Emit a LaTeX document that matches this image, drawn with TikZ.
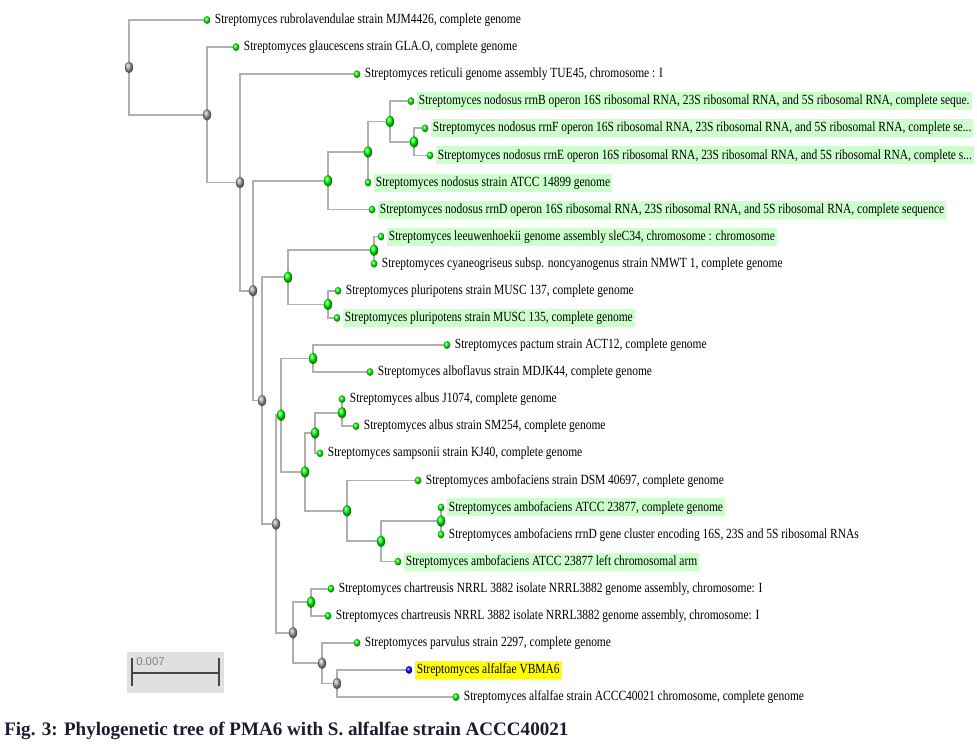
\documentclass[tikz,border=0pt]{standalone}
\usepackage{fontspec}
\setmainfont{Liberation Serif}
\newfontfamily\leaffont[FakeStretch=0.82]{Liberation Serif}
\newfontfamily\barfont{Liberation Sans}
\usetikzlibrary{shapes.geometric,backgrounds}
\definecolor{hlgreen}{RGB}{204,255,204}
\definecolor{hlyellow}{RGB}{255,255,0}
\definecolor{branchgray}{RGB}{176,176,176}
\definecolor{captioncol}{RGB}{28,28,48}
\definecolor{barbox}{RGB}{224,224,224}
\definecolor{bardark}{RGB}{64,72,72}
\tikzset{
  branch/.style={draw=branchgray, line width=1.3pt},
  graynode/.style={ellipse, minimum width=6.2pt, minimum height=8.8pt, inner sep=0pt, shading=ball, ball color=gray!75},
  greennode/.style={ellipse, minimum width=6.2pt, minimum height=8.8pt, inner sep=0pt, shading=ball, ball color=green},
  leafdot/.style={ellipse, minimum width=5pt, minimum height=5.8pt, inner sep=0pt, shading=ball, ball color=green},
  blueleaf/.style={ellipse, minimum width=5pt, minimum height=5.8pt, inner sep=0pt, shading=ball, ball color=blue},
  lab/.style={anchor=west, inner xsep=1.5pt, inner ysep=0pt, minimum height=13.5pt, text height=7.5pt, text depth=2.1pt, font=\leaffont\fontsize{10.5}{12}\selectfont},
  hlg/.style={lab, fill=hlgreen},
  hly/.style={lab, fill=hlyellow},
}
\begin{document}
\begin{tikzpicture}[x=0.75pt,y=-0.75pt]
\useasboundingbox (0,0) rectangle (977,746);
% internal nodes
\node[graynode] (n1) at (129,67.4) {};
\node[graynode] (n2) at (207,114.8) {};
\node[graynode] (n3) at (240,182.5) {};
\node[graynode] (n4) at (253,290.7) {};
\node[graynode] (n5) at (262,400.6) {};
\node[graynode] (n6) at (276,524.0) {};
\node[greennode] (nA) at (328,180.8) {};
\node[greennode] (nA1) at (368,152.0) {};
\node[greennode] (nA2) at (390,121.5) {};
\node[greennode] (nA3) at (414,141.9) {};
\node[greennode] (nB) at (288,277.3) {};
\node[greennode] (nB1) at (374,250.2) {};
\node[greennode] (nB2) at (328,304.4) {};
\node[greennode] (nC) at (281,415.2) {};
\node[greennode] (nC1) at (313,358.5) {};
\node[greennode] (nC2) at (305,471.9) {};
\node[greennode] (nC3) at (315,433.0) {};
\node[greennode] (nC4) at (342,412.7) {};
\node[greennode] (nC5) at (347,510.8) {};
\node[greennode] (nC6) at (381,541.3) {};
\node[greennode] (nC7) at (441,521.0) {};
\node[graynode] (nD) at (293,632.7) {};
\node[greennode] (nD1) at (311,602.2) {};
\node[graynode] (nD2) at (322,663.2) {};
\node[graynode] (nD3) at (337,683.5) {};
% leaves
\node[leafdot] (l1) at (207,20.0) {};
\node[leafdot] (l2) at (236,47.1) {};
\node[leafdot] (l3) at (357,74.2) {};
\node[leafdot] (l4) at (411,101.2) {};
\node[leafdot] (l5) at (425,128.3) {};
\node[leafdot] (l6) at (430,155.4) {};
\node[leafdot] (l7) at (368,182.5) {};
\node[leafdot] (l8) at (372,209.6) {};
\node[leafdot] (l9) at (381,236.6) {};
\node[leafdot] (l10) at (374,263.7) {};
\node[leafdot] (l11) at (338,290.8) {};
\node[leafdot] (l12) at (337,317.9) {};
\node[leafdot] (l13) at (447,345.0) {};
\node[leafdot] (l14) at (370,372.0) {};
\node[leafdot] (l15) at (342,399.1) {};
\node[leafdot] (l16) at (356,426.2) {};
\node[leafdot] (l17) at (320,453.3) {};
\node[leafdot] (l18) at (418,480.4) {};
\node[leafdot] (l19) at (441,507.4) {};
\node[leafdot] (l20) at (441,534.5) {};
\node[leafdot] (l21) at (398,561.6) {};
\node[leafdot] (l22) at (331,588.7) {};
\node[leafdot] (l23) at (328,615.8) {};
\node[leafdot] (l24) at (357,642.8) {};
\node[blueleaf] (l25) at (409,669.9) {};
\node[leafdot] (l26) at (456,697.0) {};
% branches
\begin{scope}[on background layer]
\foreach \p/\c in {n1/l1,n1/n2,n2/l2,n2/n3,n3/l3,n3/n4,n4/nA,n4/n5,n5/nB,n5/n6,n6/nC,n6/nD,
  nA/nA1,nA/l8,nA1/nA2,nA1/l7,nA2/l4,nA2/nA3,nA3/l5,nA3/l6,
  nB/nB1,nB/nB2,nB1/l9,nB1/l10,nB2/l11,nB2/l12,
  nC/nC1,nC/nC2,nC1/l13,nC1/l14,nC2/nC3,nC2/nC5,nC3/nC4,nC3/l17,nC4/l15,nC4/l16,
  nC5/l18,nC5/nC6,nC6/nC7,nC6/l21,nC7/l19,nC7/l20,
  nD/nD1,nD/nD2,nD1/l22,nD1/l23,nD2/l24,nD2/nD3,nD3/l25,nD3/l26}
  \draw[branch] (\p.center) |- (\c.center);
\end{scope}
% labels
\node[lab] (t1) at ([xshift=1.5pt]l1.east) {Streptomyces rubrolavendulae strain MJM4426, complete genome};
\node[lab] (t2) at ([xshift=1.5pt]l2.east) {Streptomyces glaucescens strain GLA.O, complete genome};
\node[lab] (t3) at ([xshift=1.5pt]l3.east) {Streptomyces reticuli genome assembly TUE45, chromosome : I};
\node[hlg] (t4) at ([xshift=1.5pt]l4.east) {Streptomyces nodosus rrnB operon 16S ribosomal RNA, 23S ribosomal RNA, and 5S ribosomal RNA, complete seque.};
\node[hlg] (t5) at ([xshift=1.5pt]l5.east) {Streptomyces nodosus rrnF operon 16S ribosomal RNA, 23S ribosomal RNA, and 5S ribosomal RNA, complete se...};
\node[hlg] (t6) at ([xshift=1.5pt]l6.east) {Streptomyces nodosus rrnE operon 16S ribosomal RNA, 23S ribosomal RNA, and 5S ribosomal RNA, complete s...};
\node[hlg] (t7) at ([xshift=1.5pt]l7.east) {Streptomyces nodosus strain ATCC 14899 genome};
\node[hlg] (t8) at ([xshift=1.5pt]l8.east) {Streptomyces nodosus rrnD operon 16S ribosomal RNA, 23S ribosomal RNA, and 5S ribosomal RNA, complete sequence};
\node[hlg] (t9) at ([xshift=1.5pt]l9.east) {Streptomyces leeuwenhoekii genome assembly sleC34, chromosome : chromosome};
\node[lab] (t10) at ([xshift=1.5pt]l10.east) {Streptomyces cyaneogriseus subsp. noncyanogenus strain NMWT 1, complete genome};
\node[lab] (t11) at ([xshift=1.5pt]l11.east) {Streptomyces pluripotens strain MUSC 137, complete genome};
\node[hlg] (t12) at ([xshift=1.5pt]l12.east) {Streptomyces pluripotens strain MUSC 135, complete genome};
\node[lab] (t13) at ([xshift=1.5pt]l13.east) {Streptomyces pactum strain ACT12, complete genome};
\node[lab] (t14) at ([xshift=1.5pt]l14.east) {Streptomyces alboflavus strain MDJK44, complete genome};
\node[lab] (t15) at ([xshift=1.5pt]l15.east) {Streptomyces albus J1074, complete genome};
\node[lab] (t16) at ([xshift=1.5pt]l16.east) {Streptomyces albus strain SM254, complete genome};
\node[lab] (t17) at ([xshift=1.5pt]l17.east) {Streptomyces sampsonii strain KJ40, complete genome};
\node[lab] (t18) at ([xshift=1.5pt]l18.east) {Streptomyces ambofaciens strain DSM 40697, complete genome};
\node[hlg] (t19) at ([xshift=1.5pt]l19.east) {Streptomyces ambofaciens ATCC 23877, complete genome};
\node[lab] (t20) at ([xshift=1.5pt]l20.east) {Streptomyces ambofaciens rrnD gene cluster encoding 16S, 23S and 5S ribosomal RNAs};
\node[hlg] (t21) at ([xshift=1.5pt]l21.east) {Streptomyces ambofaciens ATCC 23877 left chromosomal arm};
\node[lab] (t22) at ([xshift=1.5pt]l22.east) {Streptomyces chartreusis NRRL 3882 isolate NRRL3882 genome assembly, chromosome: I};
\node[lab] (t23) at ([xshift=1.5pt]l23.east) {Streptomyces chartreusis NRRL 3882 isolate NRRL3882 genome assembly, chromosome: I};
\node[lab] (t24) at ([xshift=1.5pt]l24.east) {Streptomyces parvulus strain 2297, complete genome};
\node[hly] (t25) at ([xshift=1.5pt]l25.east) {Streptomyces alfalfae VBMA6};
\node[lab] (t26) at ([xshift=1.5pt]l26.east) {Streptomyces alfalfae strain ACCC40021 chromosome, complete genome};
% scale bar
\node[draw=none, fill=barbox, minimum width=72.75pt, minimum height=30.75pt, inner sep=0pt, anchor=north west] (sb) at (127,652) {};
\coordinate (bl) at (132,673);
\coordinate (br) at (219,673);
\draw[draw=bardark, line width=2.2pt] (bl) -- (br);
\draw[draw=bardark, line width=1.6pt] ([yshift=11pt]bl) -- ([yshift=-10pt]bl);
\draw[draw=bardark, line width=1.6pt] ([yshift=11pt]br) -- ([yshift=-10pt]br);
\node[anchor=west, inner sep=0pt, text=gray, font=\barfont\fontsize{8.5}{10}\selectfont] (sbl) at (136,661.5) {0.007};
% caption
\node[anchor=west, inner sep=0pt, text=captioncol, font=\bfseries\fontsize{14.3}{16}\selectfont] (cap) at (4,731) {Fig. 3: Phylogenetic tree of PMA6 with S. alfalfae strain ACCC40021};
\end{tikzpicture}
\end{document}
